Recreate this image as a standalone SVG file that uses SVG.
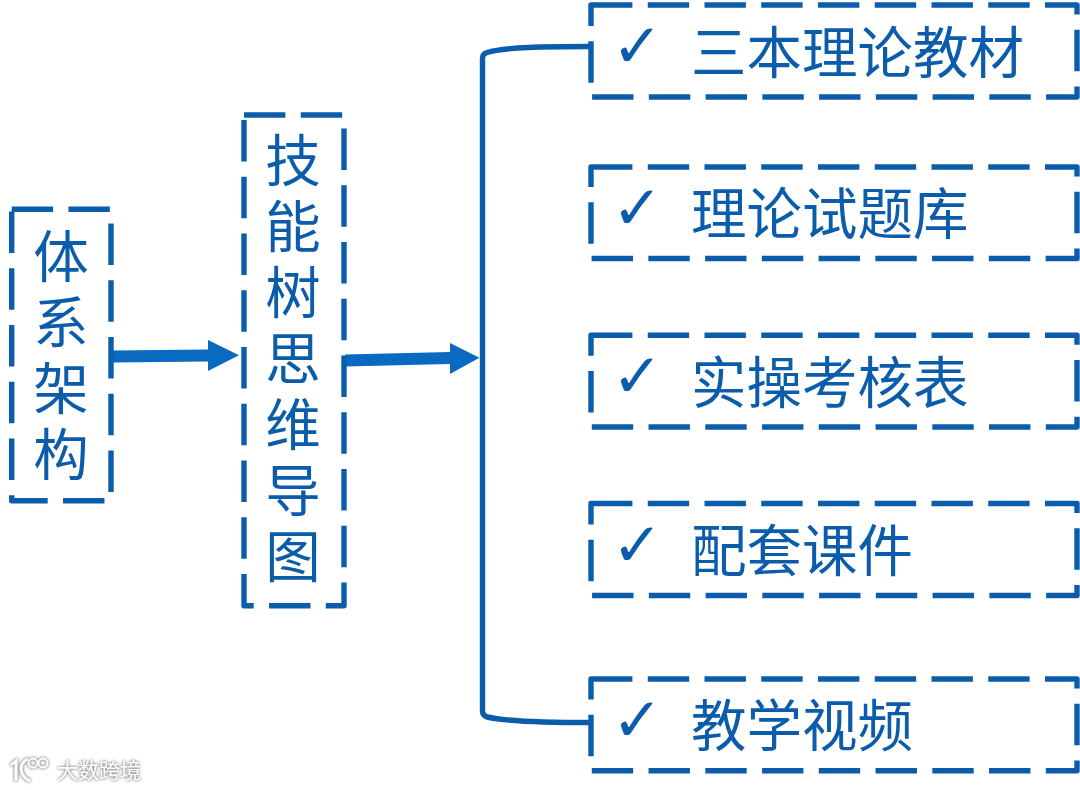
<svg xmlns="http://www.w3.org/2000/svg" width="1080" height="790" viewBox="0 0 1080 790">
<style>
.box{fill:none;stroke:#0b5dac;stroke-width:5.4;stroke-dasharray:41.4 15.35;stroke-linejoin:round}
.t{font-family:"Noto Sans CJK SC","Noto Sans",sans-serif;font-size:55.5px;fill:#0b5dac}
.v{writing-mode:vertical-rl}
.c{font-family:"DejaVu Sans",sans-serif;font-size:61px;fill:#0b5dac}
.wm{font-family:"Noto Sans CJK SC",sans-serif;font-size:21px;fill:#fff}
.arrow{fill:#0a6abf}
.link{fill:none;stroke:#0b5dac;stroke-width:5.4}
</style>
<defs>
<filter id="sh" x="-20%" y="-40%" width="140%" height="180%">
<feGaussianBlur in="SourceAlpha" stdDeviation="1.6" result="b"/>
<feFlood flood-color="#8c8c8c"/>
<feComposite in2="b" operator="in"/>
<feMerge><feMergeNode/><feMergeNode/><feMergeNode in="SourceGraphic"/></feMerge>
</filter>
</defs>
<rect width="1080" height="790" fill="#fff"/>
<g id="connectors">
<path class="link" d="M591 46.5C545 46.5 505 47 487 52.5Q482.5 54 482.5 58V711Q482.5 715.5 487 717C505 721 545 722.5 591 722.5"/>
<polygon class="arrow" points="113,350.5 208,349.5 208,340 239,355.3 208,371 208,361.5 113,362.5"/>
<polygon class="arrow" points="345,354.5 450,352 450,343 479.5,357.7 450,374 450,364 345,366.5"/>
</g>
<g id="node-tixi">
<rect class="box" x="11.7" y="209.3" width="99.3" height="291.4"/>
<text class="t v" x="61" y="228.5">体</text>
<text class="t v" x="61" y="294.5">系</text>
<text class="t v" x="61" y="360.5">架</text>
<text class="t v" x="61" y="426.5">构</text>
</g>
<g id="node-jinengshu">
<rect class="box" x="244" y="115" width="100" height="490.7"/>
<text class="t v" x="293" y="132.5">技</text>
<text class="t v" x="293" y="198.5">能</text>
<text class="t v" x="293" y="264.5">树</text>
<text class="t v" x="293" y="330.5">思</text>
<text class="t v" x="293" y="396.5">维</text>
<text class="t v" x="293" y="462.5">导</text>
<text class="t v" x="293" y="528.5">图</text>
</g>
<g id="node-1">
<rect class="box" x="591" y="5" width="486" height="92"/>
<text class="c" x="611.7" y="67">✓</text>
<text class="t" x="691" y="72.5">三本理论教材</text>
</g>
<g id="node-2">
<rect class="box" x="591" y="167" width="486" height="91.5"/>
<text class="c" x="611.7" y="229">✓</text>
<text class="t" x="691" y="233.5">理论试题库</text>
</g>
<g id="node-3">
<rect class="box" x="591" y="335.3" width="486" height="91.7"/>
<text class="c" x="611.7" y="397.3">✓</text>
<text class="t" x="691" y="402.5">实操考核表</text>
</g>
<g id="node-4">
<rect class="box" x="591" y="503.5" width="486" height="92"/>
<text class="c" x="611.7" y="565.5">✓</text>
<text class="t" x="691" y="570.5">配套课件</text>
</g>
<g id="node-5">
<rect class="box" x="591" y="679" width="486" height="91.7"/>
<text class="c" x="611.7" y="741">✓</text>
<text class="t" x="691" y="745.5">教学视频</text>
</g>
<g id="watermark" filter="url(#sh)">
<path d="M11 765L16 761V781M28 759C19 763 18 775 30 781" fill="none" stroke="#fff" stroke-width="2.8"/>
<circle cx="33" cy="763" r="4.5" fill="none" stroke="#fff" stroke-width="1.8"/>
<circle cx="43" cy="763" r="4.5" fill="none" stroke="#fff" stroke-width="1.8"/>
<text class="wm" x="57" y="778">大数跨境</text>
</g>
</svg>
